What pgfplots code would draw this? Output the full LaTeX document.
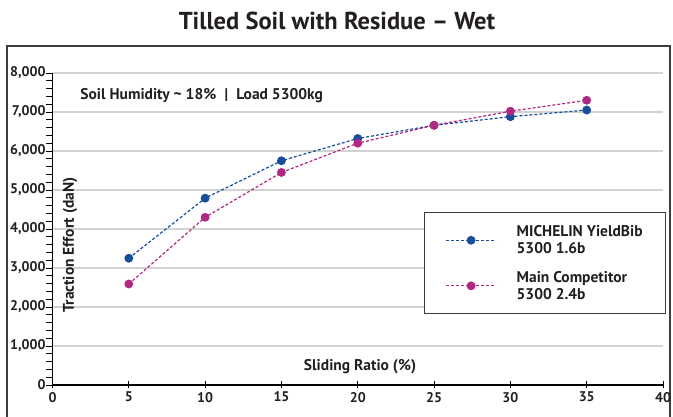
\documentclass[border=0pt]{standalone}
\usepackage{pgfplots}
\pgfplotsset{compat=1.18}
\usepackage{fontspec}
\setmainfont{PT Sans}
\definecolor{mblue}{RGB}{22,78,155}
\definecolor{mpurple}{RGB}{176,40,130}
\definecolor{gridc}{RGB}{210,210,210}
\definecolor{framec}{RGB}{60,60,60}
\definecolor{txt}{RGB}{35,31,32}
\begin{document}
\begin{tikzpicture}
\useasboundingbox (0pt,0pt) rectangle (673pt,417pt);
\draw[framec, line width=1.2pt] (7pt,-20pt) -- (7pt,371pt) -- (670pt,371pt) -- (670pt,-20pt);
\node[txt, font=\fontsize{24.5}{28}\selectfont\bfseries] at (337pt,396pt) {Tilled Soil with Residue – Wet};
\begin{axis}[
  at={(52.5pt,32pt)}, anchor=origin,
  scale only axis, width=610.5pt, height=312pt,
  xmin=0, xmax=40, ymin=0, ymax=8000,
  axis x line*=bottom, axis y line*=left,
  axis line style={black, line width=1.1pt},
  xtick={0,5,...,40}, ytick={0,1000,...,8000},
  minor y tick num=4,
  tick align=center, major tick length=7pt, minor tick length=6pt,
  y tick style={xshift=-3pt},
  tick style={black, line width=0.9pt},
  ymajorgrids, major grid style={gridc, line width=1.2pt},
  /pgf/number format/assume math mode=true,
  /pgf/number format/1000 sep={,},
  ticklabel style={txt, font=\fontsize{14}{16}\selectfont\bfseries},
  legend cell align=left,
  legend style={at={(rel axis cs:0.6085,0.5545)}, anchor=north west,
    draw=framec, line width=1pt, fill=white, inner xsep=21pt, inner ysep=11pt,
    row sep=12pt,
    /tikz/every odd column/.append style={column sep=18pt},
    nodes={align=left, txt, font=\fontsize{15.5}{17}\selectfont\bfseries}},
  legend image code/.code={\draw[mark repeat=2,mark phase=2,#1] plot coordinates {(0pt,0pt)(25pt,0pt)(50pt,0pt)};},
]
\addplot[mblue, dash pattern=on 3pt off 2pt, line width=1.2pt, mark=*, mark size=3.8pt, mark options={solid}]
  coordinates {(5,3250) (10,4790) (15,5750) (20,6320) (25,6660) (30,6880) (35,7050)};
\addlegendentry{MICHELIN YieldBib\\5300 1.6b}
\addplot[mpurple, dash pattern=on 3pt off 2pt, line width=1.2pt, mark=*, mark size=3.8pt, mark options={solid}]
  coordinates {(5,2590) (10,4300) (15,5450) (20,6200) (25,6660) (30,7020) (35,7300)};
\addlegendentry{Main Competitor\\5300 2.4b}
\node[anchor=west, txt, font=\fontsize{15.5}{17}\selectfont\bfseries] at (axis cs:1.6,7430) {Soil Humidity \textasciitilde{} 18\% \;|\; Load 5300kg};
\node[txt, font=\fontsize{15.5}{17}\selectfont\bfseries] at (axis cs:20.15,460) {Sliding Ratio (\%)};
\node[rotate=90, txt, font=\fontsize{15.5}{17}\selectfont\bfseries] at (axis cs:1.15,3590) {Traction Effort (daN)};
\end{axis}
\end{tikzpicture}
\end{document}
